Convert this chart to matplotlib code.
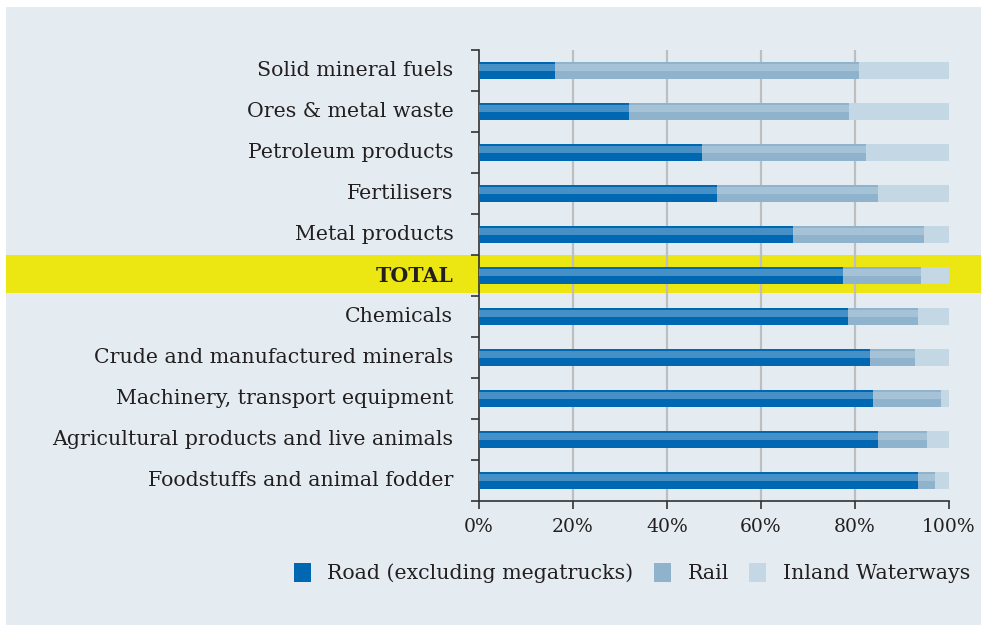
import matplotlib
matplotlib.use("Agg")
import matplotlib.pyplot as plt
from matplotlib.patches import Rectangle, Patch
import numpy as np

categories = ["Solid mineral fuels", "Ores & metal waste", "Petroleum products",
              "Fertilisers", "Metal products", "TOTAL", "Chemicals",
              "Crude and manufactured minerals", "Machinery, transport equipment",
              "Agricultural products and live animals", "Foodstuffs and animal fodder"]
road = [16.2, 31.9, 47.4, 50.6, 66.8, 77.4, 78.5, 83.2, 83.8, 84.9, 93.4]
rail = [64.7, 46.8, 34.9, 34.3, 27.9, 16.6, 14.9, 9.6, 14.5, 10.4, 3.6]
water = [100 - a - b for a, b in zip(road, rail)]
series_names = ["Road (excluding megatrucks)", "Rail", "Inland Waterways"]
xticks = [0, 20, 40, 60, 80, 100]
xticklabels = ["0%", "20%", "40%", "60%", "80%", "100%"]

W, H = 981, 626
fig = plt.figure(figsize=(W / 100, H / 100), dpi=100)
fig.patch.set_facecolor("white")
bg = "#e4ecf2"
fig.patches.append(Rectangle((6 / W, 1 / H), 1 - 6 / W, (H - 8) / H, transform=fig.transFigure,
                             facecolor=bg, edgecolor="none", zorder=-10))
fig.patches.append(Rectangle((6 / W, 1 - 293 / H), 1 - 6 / W, 38 / H, transform=fig.transFigure,
                             facecolor="#ece612", edgecolor="none", zorder=-9))

ax = fig.add_axes([479 / W, 1 - 501 / H, 470 / W, 451 / H])
ax.set_facecolor("none")

font = "DejaVu Serif"
y = np.arange(len(categories))
bh = 17 / 41
cols = ["#0068b3", "#8fb3cc", "#c3d7e4"]
hl = ["#4690c8", "#a6c2d6", "#c3d7e4"]
left = np.zeros(len(categories))
for vals, c, h in zip([road, rail, water], cols, hl):
    ax.barh(y, vals, left=left, height=bh, color=c, zorder=3, linewidth=0)
    ax.barh(y - 3 / 41, vals, left=left, height=7 / 41, color=h, zorder=4, linewidth=0)
    left = left + np.array(vals)

ax.set_xlim(0, 100)
ax.set_ylim(len(categories) - 0.5, -0.5)
ax.set_xticks(xticks)
ax.set_xticklabels(xticklabels, fontfamily=font, fontsize=13.5, color="#231f20")
ax.set_yticks(y)
ax.set_yticklabels(categories, fontfamily=font, fontsize=14.8, color="#231f20",
                   va="center")
for lab in ax.get_yticklabels():
    if lab.get_text() == "TOTAL":
        lab.set_fontweight("bold")
ax.tick_params(axis="y", length=0, pad=18.5)
ax.set_yticks(np.arange(-0.5, len(categories) + 0.5, 1), minor=True)
ax.tick_params(axis="y", which="minor", length=6, width=1.2, color="#333333")
ax.tick_params(axis="x", length=6, width=1.2, color="#333333", pad=6)

for s in ["top", "right"]:
    ax.spines[s].set_visible(False)
for s in ["left", "bottom"]:
    ax.spines[s].set_color("#333333")
    ax.spines[s].set_linewidth(1.2)
for xv in [20, 40, 60, 80]:
    ax.axvline(xv, color="#bcbec0", linewidth=1.6, zorder=1)

handles = [Patch(facecolor=c, edgecolor="none") for c in cols]
fig.legend(handles, series_names, loc="center", bbox_to_anchor=(632 / W, 1 - 573 / H),
           ncol=3, frameon=False, prop={"family": font, "size": 14.8},
           handlelength=0.82, handleheight=1.07, handletextpad=0.8, columnspacing=1.0,
           labelcolor="#231f20")

fig.savefig("out.png", dpi=100)
